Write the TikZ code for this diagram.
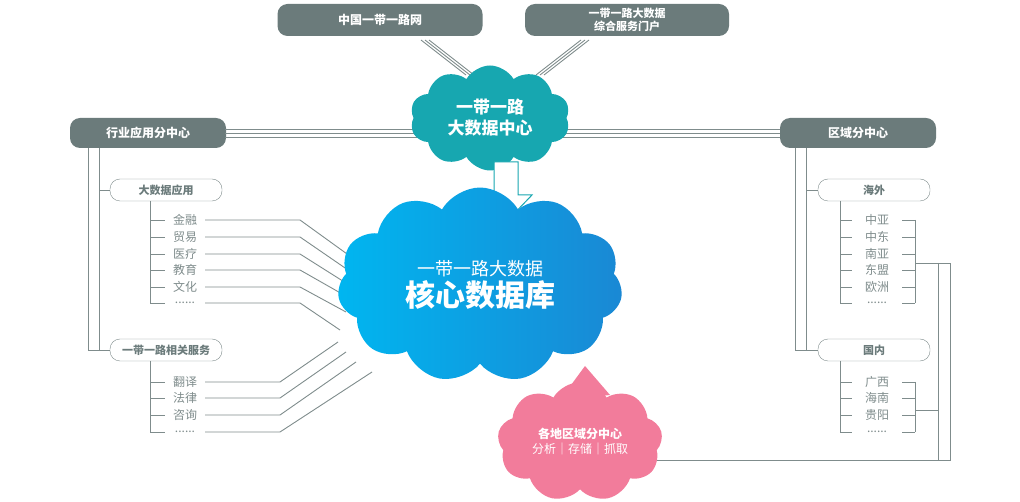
\documentclass[tikz,border=0pt]{standalone}
\usepackage{fontspec}
\setmainfont{Noto Sans CJK SC}
\usepackage{xcolor}
\usetikzlibrary{shapes.symbols,positioning}
\definecolor{pillgray}{HTML}{6B7B7B}
\definecolor{linegray}{HTML}{7F8C8C}
\definecolor{teal}{HTML}{17A7B0}
\definecolor{blueA}{HTML}{00B6F0}
\definecolor{blueB}{HTML}{1A88D4}
\definecolor{pink}{HTML}{F27C9B}
\newcommand\moredots{......}
\tikzstyle{pill}=[rounded corners=10pt,fill=pillgray,text=white,font=\bfseries\fontsize{12}{14}\selectfont,minimum height=32pt,align=center,inner sep=2pt]
\tikzstyle{subpill}=[draw=linegray,rounded corners=10pt,fill=white,text=pillgray,font=\bfseries\fontsize{11}{13}\selectfont,minimum height=22pt,minimum width=112pt,inner sep=1pt]
\tikzstyle{item}=[text=linegray,font=\fontsize{12}{14}\selectfont,inner sep=1pt]
\tikzstyle{wire}=[draw=linegray,line width=0.9pt]

\begin{document}
\begin{tikzpicture}[x=1pt,y=-1pt]
\useasboundingbox (0,0) rectangle (1020,502);
		% main pills
		\node[pill,minimum width=205pt] (china) at (380,20) {中国一带一路网};
		\node[pill,minimum width=204pt,font=\bfseries\fontsize{11}{13}\selectfont] (portal) at (627,20) {一带一路大数据\\综合服务门户};
		\node[pill,minimum width=156pt,minimum height=30pt] (industry) at (148,133) {行业应用分中心};
		\node[pill,minimum width=156pt,minimum height=30pt] (region) at (858,133) {区域分中心};
		% triple links
		\foreach \d in {-4,0,4} {
			\draw[wire] (225,133+\d) -- (430,133+\d);
			\draw[wire] (550,133+\d) -- (780,133+\d);
			\draw[wire] (425+\d,40) -- (470+\d,75);
			\draw[wire] (585+\d,40) -- (540+\d,75);
		}
		% left tree
		\node[subpill] (bigdata) at (166,190) {大数据应用};
		\node[subpill] (service) at (166,350) {一带一路相关服务};
		\draw[wire] (88,148) |- (service.west);
		\draw[wire] (99,148) -- (99,350);
		\draw[wire] (99,190) -- (bigdata.west);
		\draw[wire] (150,201) -- (150,303);
		\draw[wire] (150,361) -- (150,432);
		\foreach \t/\y/\ex/\ey in {金融/220/372/272,贸易/237/364/281,医疗/254/357/290,教育/270/351/299,文化/287/346/312,\moredots/303/340/330} {
			\node[item] (l\y) at (185,\y) {\t};
			\draw[wire] (150,\y) -- (165,\y);
			\draw[wire] (205,\y) -- (300,\y) -- (\ex,\ey);
		}
		\foreach \t/\y/\ex/\ey in {翻译/382/338/342,法律/398/346/352,咨询/415/356/362,\moredots/432/372/372} {
			\node[item] (l\y) at (185,\y) {\t};
			\draw[wire] (150,\y) -- (165,\y);
			\draw[wire] (205,\y) -- (280,\y) -- (\ex,\ey);
		}
		% right tree
		\node[subpill] (abroad) at (874,190) {海外};
		\node[subpill] (home) at (874,350) {国内};
		\draw[wire] (795,148) |- (home.west);
		\draw[wire] (806,148) -- (806,350);
		\draw[wire] (806,190) -- (abroad.west);
		\draw[wire] (840,201) -- (840,303);
		\draw[wire] (840,361) -- (840,432);
		\foreach \t/\y in {中亚/220,中东/237,南亚/254,东盟/270,欧洲/287,\moredots/303,广西/382,海南/398,贵阳/415,\moredots/432} {
			\node[item] (r\y) at (877,\y) {\t};
			\draw[wire] (840,\y) -- (852,\y);
			\draw[wire] (902,\y) -- (915,\y);
		}
		\draw[wire] (915,220) -- (915,303);
		\draw[wire] (915,382) -- (915,432);
		\draw[wire] (915,263) -- (950,263) -- (950,460) -- (640,460);
		\draw[wire] (938,263) -- (938,460);
		\draw[wire] (915,410) -- (938,410);
		% clouds
		\node[cloud,cloud puffs=10,cloud puff arc=120,aspect=1.6,fill=teal,minimum width=160pt,minimum height=105pt,text=white,font=\bfseries\fontsize{17}{21}\selectfont,align=center] (hub) at (490,118) {一带一路\\大数据中心};
		\draw[draw=teal,fill=white,line width=1pt] (494,162) -- (518,162) -- (518,195) -- (532,195) -- (506,222) -- (480,195) -- (494,195) -- cycle;
		\node[cloud,cloud puffs=11,cloud puff arc=120,aspect=1.5,left color=blueA,right color=blueB,minimum width=285pt,minimum height=195pt,text=white,align=center] (core) at (480,285) {{\fontsize{18}{22}\selectfont 一带一路大数据}\\[2pt]{\bfseries\fontsize{30}{34}\selectfont 核心数据库}};
		\fill[pink] (560,400) -- (585,366) -- (610,395) -- cycle;
		\node[cloud,cloud puffs=9,cloud puff arc=120,aspect=1.5,fill=pink,minimum width=165pt,minimum height=110pt,text=white,align=center] (local) at (580,442) {{\bfseries\fontsize{12}{15}\selectfont 各地区域分中心}\\[3pt]{\fontsize{12}{15}\selectfont 分析｜存储｜抓取}};
\end{tikzpicture}
\end{document}
